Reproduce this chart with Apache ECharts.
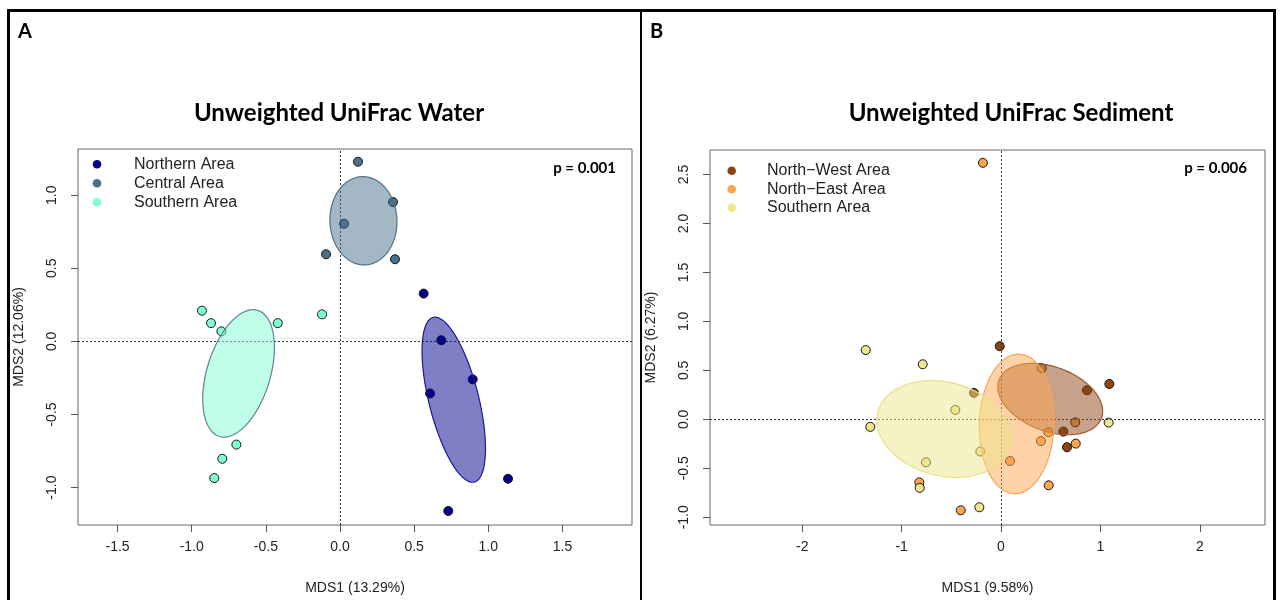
<!DOCTYPE html>
<html><head><meta charset="utf-8">
<script src="https://cdn.jsdelivr.net/npm/echarts@6/dist/echarts.min.js"></script>
<style>html,body{margin:0;padding:0;background:#fff}#c{width:1280px;height:600px}</style>
</head><body><div id="c"></div>
<script>
// ---------- Panel A : Unweighted UniFrac Water ----------
const waterNames = ['Northern Area', 'Central Area', 'Southern Area'];
const waterColors = ['#00008B', '#4A708B', '#7FFFD4'];
const waterNorthern = [[0.564,0.327],[0.683,0.008],[0.895,-0.26],[0.607,-0.356],[1.133,-0.94],[0.730,-1.16]];
const waterCentral  = [[0.121,1.229],[0.357,0.953],[0.027,0.805],[-0.094,0.596],[0.371,0.562]];
const waterSouthern = [[-0.931,0.210],[-0.87,0.125],[-0.80,0.069],[-0.42,0.125],[-0.121,0.185],[-0.699,-0.706],[-0.794,-0.803],[-0.848,-0.935]];
// ellipse: [centerX, centerY, semiMajor, semiMinor, angleDeg]
const waterEllNorthern = [0.767, -0.399, 0.58, 0.168, 103.8];
const waterEllCentral  = [0.158, 0.825, 0.302, 0.226, 92];
const waterEllSouthern = [-0.684, -0.219, 0.45, 0.214, 73.5];
const waterXTicks = [-1.5, -1.0, -0.5, 0.0, 0.5, 1.0, 1.5];
const waterYTicks = [-1.0, -0.5, 0.0, 0.5, 1.0];
const waterP = 'p = 0.001';

// ---------- Panel B : Unweighted UniFrac Sediment ----------
const sedNames = ['North\u2212West Area', 'North\u2212East Area', 'Southern Area'];
const sedColors = ['#8B4513', '#FFA54F', '#F0E68C'];
const sedNorthWest = [[-0.013,0.747],[1.09,0.361],[0.865,0.297],[0.627,-0.125],[0.664,-0.285],[-0.272,0.270]];
const sedNorthEast = [[-0.182,2.619],[0.409,0.522],[0.747,-0.031],[0.476,-0.132],[0.402,-0.222],[0.752,-0.248],[0.091,-0.426],[-0.822,-0.644],[0.48,-0.674],[-0.405,-0.929]];
const sedSouthern  = [[-1.361,0.707],[-0.788,0.562],[-0.46,0.096],[-1.315,-0.077],[1.083,-0.034],[-0.208,-0.329],[-0.755,-0.439],[-0.818,-0.70],[-0.218,-0.898]];
const sedEllNorthWest = [0.495, 0.207, 0.551, 0.328, -21];
const sedEllNorthEast = [0.158, -0.047, 0.713, 0.376, 88];
const sedEllSouthern  = [-0.576, -0.099, 0.686, 0.477, -15];
const sedXTicks = [-2, -1, 0, 1, 2];
const sedYTicks = [-1.0, -0.5, 0.0, 0.5, 1.0, 1.5, 2.0, 2.5];
const sedP = 'p = 0.006';

const FONT = 'Liberation Sans';
const TFONT = 'Lato';

function hexA(hex, a) {
  const n = parseInt(hex.slice(1), 16);
  return 'rgba(' + ((n >> 16) & 255) + ',' + ((n >> 8) & 255) + ',' + (n & 255) + ',' + a + ')';
}

function ellipseSeries(idx, ell, color, stroke) {
  return {
    type: 'custom', name: 'ell' + idx + color, xAxisIndex: idx, yAxisIndex: idx, z: 5,
    silent: true, clip: false,
    data: [ell],
    dimensions: ['cx', 'cy', 'a', 'b', 't'],
    encode: { x: 0, y: 1 },
    renderItem: function (params, api) {
      const cx = api.value(0), cy = api.value(1), a = api.value(2), b = api.value(3);
      const t = api.value(4) * Math.PI / 180;
      const pts = [];
      const N = 144;
      for (let i = 0; i < N; i++) {
        const s = 2 * Math.PI * i / N;
        const ex = a * Math.cos(s), ey = b * Math.sin(s);
        pts.push(api.coord([cx + ex * Math.cos(t) - ey * Math.sin(t), cy + ex * Math.sin(t) + ey * Math.cos(t)]));
      }
      return { type: 'polygon', shape: { points: pts }, style: { fill: hexA(color, 0.5), stroke: stroke, lineWidth: 1.2 } };
    }
  };
}

function scatterSeries(idx, name, data, color) {
  return {
    type: 'scatter', name: name, xAxisIndex: idx, yAxisIndex: idx, z: 2,
    data: data, symbol: 'circle', symbolSize: 9,
    itemStyle: { color: color, borderColor: '#151515', borderWidth: 1, opacity: 1 },
    emphasis: { disabled: true }
  };
}

function zeroLines(idx) {
  return {
    type: 'scatter', name: 'zero' + idx, xAxisIndex: idx, yAxisIndex: idx, z: 6, data: [],
    markLine: {
      silent: true, symbol: ['none', 'none'], label: { show: false },
      lineStyle: { color: '#333', width: 1, type: [2, 2] },
      data: [{ xAxis: 0 }, { yAxis: 0 }], animation: false
    }
  };
}

function xAxisDef(idx, min, max, ticks, dec, name) {
  return {
    gridIndex: idx, type: 'value', min: min, max: max,
    axisLine: { show: false, onZero: false }, splitLine: { show: false },
    axisTick: { show: true, customValues: ticks, inside: false, length: 7, lineStyle: { color: '#555', width: 1 } },
    axisLabel: { customValues: ticks, formatter: v => Number(v).toFixed(dec), margin: 15, fontSize: 14, color: '#222', fontFamily: FONT },
    name: name, nameLocation: 'middle', nameGap: 56,
    nameTextStyle: { fontSize: 14, color: '#222', fontFamily: FONT }
  };
}
function yAxisDef(idx, min, max, ticks, name) {
  return {
    gridIndex: idx, type: 'value', min: min, max: max,
    axisLine: { show: false, onZero: false }, splitLine: { show: false },
    axisTick: { show: true, customValues: ticks, inside: false, length: 7, lineStyle: { color: '#555', width: 1 } },
    axisLabel: { customValues: ticks, formatter: v => Number(v).toFixed(1), rotate: 90, margin: 19, fontSize: 14, color: '#222', fontFamily: FONT },
    name: name, nameLocation: 'middle', nameGap: 52,
    nameTextStyle: { fontSize: 14, color: '#222', fontFamily: FONT }
  };
}

function legendGraphic(names, colors, symX, textX, y0, gap) {
  const out = [];
  names.forEach((n, i) => {
    const y = y0 + i * gap;
    out.push({ type: 'circle', z: 50, silent: true, shape: { cx: symX, cy: y, r: 4.3 }, style: { fill: colors[i] } });
    out.push({ type: 'text', z: 50, silent: true, x: textX, y: y, style: { text: n, font: '16px ' + FONT, fill: '#222', textVerticalAlign: 'middle' } });
  });
  return out;
}

const chart = echarts.init(document.getElementById('c'), null, { renderer: 'canvas' });
chart.setOption({
  animation: false,
  backgroundColor: '#fff',
  grid: [
    { left: 78, top: 149, width: 554, height: 382, show: true, borderColor: '#666', borderWidth: 1, containLabel: false },
    { left: 710, top: 150, width: 555, height: 381, show: true, borderColor: '#666', borderWidth: 1, containLabel: false }
  ],
  xAxis: [
    xAxisDef(0, -1.767, 1.969, waterXTicks, 1, 'MDS1 (13.29%)'),
    xAxisDef(1, -2.928, 2.656, sedXTicks, 0, 'MDS1 (9.58%)')
  ],
  yAxis: [
    yAxisDef(0, -1.256, 1.316, waterYTicks, 'MDS2 (12.06%)'),
    yAxisDef(1, -1.079, 2.75, sedYTicks, 'MDS2 (6.27%)')
  ],
  series: [
    scatterSeries(0, waterNames[0], waterNorthern, waterColors[0]),
    scatterSeries(0, waterNames[1], waterCentral, waterColors[1]),
    scatterSeries(0, waterNames[2], waterSouthern, waterColors[2]),
    ellipseSeries(0, waterEllNorthern, waterColors[0], '#1a1a9a'),
    ellipseSeries(0, waterEllCentral, waterColors[1], '#4A708B'),
    ellipseSeries(0, waterEllSouthern, waterColors[2], '#5f8296'),
    zeroLines(0),
    scatterSeries(1, sedNames[0], sedNorthWest, sedColors[0]),
    scatterSeries(1, sedNames[1], sedNorthEast, sedColors[1]),
    scatterSeries(1, sedNames[2], sedSouthern, sedColors[2]),
    ellipseSeries(1, sedEllNorthWest, sedColors[0], '#9a5a2a'),
    ellipseSeries(1, sedEllNorthEast, sedColors[1], '#f7a55a'),
    ellipseSeries(1, sedEllSouthern, sedColors[2], '#e8df8c'),
    zeroLines(1)
  ],
  graphic: [
    { type: 'rect', z: 100, silent: true, shape: { x: 8.5, y: 10.5, width: 1266, height: 600 }, style: { fill: 'none', stroke: '#000', lineWidth: 3 } },
    { type: 'line', z: 100, silent: true, shape: { x1: 641, y1: 10, x2: 641, y2: 600 }, style: { stroke: '#000', lineWidth: 2 } },
    { type: 'text', z: 100, x: 18, y: 32, style: { text: 'A', font: 'bold 20px ' + TFONT, fill: '#000', textVerticalAlign: 'middle' } },
    { type: 'text', z: 100, x: 650, y: 32, style: { text: 'B', font: 'bold 20px ' + TFONT, fill: '#000', textVerticalAlign: 'middle' } },
    { type: 'text', z: 100, x: 339, y: 113, style: { text: 'Unweighted UniFrac Water', font: 'bold 24px ' + TFONT, fill: '#000', textAlign: 'center', textVerticalAlign: 'middle' } },
    { type: 'text', z: 100, x: 1011, y: 113, style: { text: 'Unweighted UniFrac Sediment', font: 'bold 24px ' + TFONT, fill: '#000', textAlign: 'center', textVerticalAlign: 'middle' } },
    { type: 'text', z: 100, x: 616, y: 168, style: { text: waterP, font: 'bold 15px ' + TFONT, fill: '#000', textAlign: 'right', textVerticalAlign: 'middle' } },
    { type: 'text', z: 100, x: 1247, y: 168, style: { text: sedP, font: 'bold 15px ' + TFONT, fill: '#000', textAlign: 'right', textVerticalAlign: 'middle' } }
  ].concat(
    legendGraphic(waterNames, waterColors, 97, 134, 164.3, 19),
    legendGraphic(sedNames, sedColors, 731.7, 767, 170.7, 18.5)
  )
});
</script></body></html>
